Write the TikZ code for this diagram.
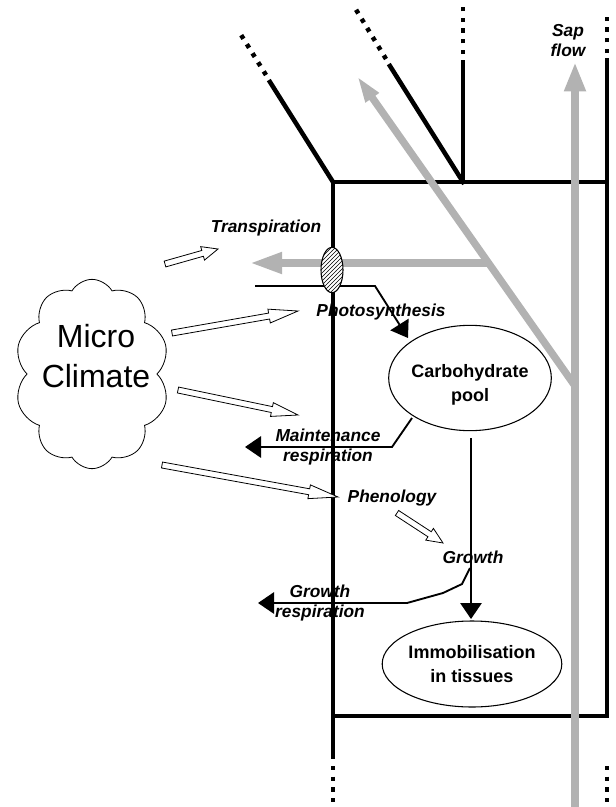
\documentclass[tikz,border=0pt]{standalone}
\usepackage{fontspec}
\newfontfamily\lab{Liberation Sans}
\usetikzlibrary{arrows.meta,shapes.geometric,shapes.symbols,calc,patterns}
\tikzset{
  trunk/.style={line width=3.4pt, line cap=rect},
  dots/.style={line width=3.4pt, dash pattern=on 3.2pt off 4.8pt},
  thinl/.style={line width=1.4pt},
  blackhead/.style={-{Triangle[length=12pt,width=16pt]}},
  grayarr/.style={draw=black!30, line width=5.5pt},
  hollow/.style={draw=black, line width=0.6pt, fill=white},
  itl/.style={font=\lab\bfseries\itshape\fontsize{13}{15}\selectfont, inner sep=0pt, align=center},
  bdl/.style={font=\lab\bfseries\fontsize{13.5}{17.5}\selectfont, align=center},
}
\newcommand\hollowarr[3]{%
  \coordinate (H) at ($(#2)!#3!(#1)$);
  \draw[hollow] ($(#1)!2.25pt!90:(#2)$) -- ($(H)!2.25pt!90:(#2)$) -- ($(H)!5.25pt!90:(#2)$)
    -- (#2) -- ($(H)!5.25pt!-90:(#2)$) -- ($(H)!2.25pt!-90:(#2)$) -- ($(#1)!2.25pt!-90:(#2)$) -- cycle;
}
\begin{document}
\begin{tikzpicture}[x=0.75pt,y=-0.75pt]
\useasboundingbox (0,0) rectangle (616,807);
% --- stem skeleton ---
\coordinate (tl) at (333,182);
\coordinate (tr) at (607,182);
\coordinate (bl) at (333,716);
\coordinate (br) at (607,716);
\coordinate (lsolidend) at (333,757);
\coordinate (ldot1) at (333,766);
\coordinate (ldot2) at (333,807);
\coordinate (rtop) at (607,60);
\coordinate (rdot1) at (607,53);
\coordinate (rdot2) at (607,13);
\coordinate (rbdot1) at (607,766);
\coordinate (rbdot2) at (607,807);
\coordinate (b1end) at (270,82);
\coordinate (b1dot1) at (266,75);
\coordinate (b1dot2) at (238,30);
\coordinate (mj) at (463,182);
\coordinate (mvtop) at (463,62);
\coordinate (mvdot1) at (463,54);
\coordinate (mvdot2) at (463,7);
\coordinate (mdend) at (390,66);
\coordinate (mddot1) at (386,59);
\coordinate (mddot2) at (355,8);

\draw[trunk] (tl) -- (lsolidend);
\draw[trunk] (tl) -- (tr);
\draw[trunk] (bl) -- (br);
\draw[trunk] (rtop) -- (br);
\draw[trunk] (tl) -- (b1end);
\draw[trunk] (mj) -- (mvtop);
\draw[trunk] (mj) -- (mdend);
\draw[dots] (ldot1) -- (ldot2);
\draw[dots] (rdot1) -- (rdot2);
\draw[dots] (rbdot1) -- (rbdot2);
\draw[dots] (b1dot1) -- (b1dot2);
\draw[dots] (mvdot1) -- (mvdot2);
\draw[dots] (mddot1) -- (mddot2);

% --- gray water flows ---
\coordinate (sapb) at (575,807);
\coordinate (sapt) at (575,62);
\coordinate (diagb) at (575,386);
\coordinate (diagt) at (357,76);
\coordinate (horb) at (490,263);
\coordinate (hort) at (250,263);
\draw[grayarr, line width=6pt, -{Triangle[length=22pt,width=15pt]}] (sapb) -- (sapt);
\draw[grayarr, -{Triangle[length=20pt,width=11pt]}] (diagb) -- (diagt);
\draw[grayarr, -{Triangle[length=24pt,width=15pt]}] (horb) -- (hort);

% --- leaf and photosynthesis ---
\coordinate (leafl) at (255,286);
\coordinate (leafk) at (375,286);
\node[ellipse, draw=black, line width=0.8pt, minimum width=122pt, minimum height=79pt, inner sep=0pt] (carb) at (470,378) {};
\node[bdl] (carbtxt) at (470,385) {Carbohydrate\\pool};
\coordinate (photoend) at (408,338);
\draw[thinl, blackhead] (leafl) -- (leafk) -- (photoend);
\node[ellipse, draw=black, line width=0.8pt, minimum width=16.5pt, minimum height=34pt, inner sep=0pt,
      preaction={fill=white}, pattern=north east lines] (stoma) at (332,270) {};

% --- texts ---
\node[itl] (transp) at (266,228) {Transpiration};
\node[itl] (photo) at (381,312) {Photosynthesis};
\node[itl] (maint) at (328,447) {Maintenance\\respiration};
\node[itl] (pheno) at (392,498) {Phenology};
\node[itl] (growth) at (473,557) {Growth};
\node[itl] (grresp) at (320,603) {Growth\\respiration};
\node[itl] (sap) at (568,41) {Sap\\flow};

\node[ellipse, draw=black, line width=0.8pt, minimum width=117pt, minimum height=64.5pt, inner sep=0pt, bdl] (immob) at (472,664) {Immobilisation\\in tissues};

% --- respiration and growth arrows ---
\coordinate (mstart) at (412,418);
\coordinate (mknee) at (392,447);
\coordinate (mtip) at (245,447);
\draw[thinl, blackhead] (mstart) -- (mknee) -- (mtip);
\coordinate (cdown) at (471,438);
\coordinate (cdownend) at (471,619);
\draw[thinl, blackhead] (cdown) -- (cdownend);
\coordinate (g1) at (470,568);
\coordinate (g2) at (462,584);
\coordinate (g3) at (443,593);
\coordinate (g4) at (407,603);
\coordinate (gtip) at (258,603);
\draw[thinl, blackhead] (g1) -- (g2) -- (g3) -- (g4) -- (gtip);

% --- micro climate ---
\node[cloud, draw=black, line width=0.6pt, cloud puffs=10, cloud puff arc=120, aspect=0.83,
      minimum width=116pt, minimum height=142pt, inner sep=0pt] (cloud) at (92,374) {};
\node[font=\lab\fontsize{24}{30}\selectfont, align=center] (mctxt) at (96,356) {Micro\\Climate};

\coordinate (a1s) at (165,264);
\coordinate (a1e) at (218,249);
\coordinate (a2s) at (172,333);
\coordinate (a2e) at (298,311);
\coordinate (a3s) at (178,390);
\coordinate (a3e) at (298,415);
\coordinate (a4s) at (162,465);
\coordinate (a4e) at (338,497);
\coordinate (a5s) at (397,513);
\coordinate (a5e) at (443,543);
\hollowarr{a1s}{a1e}{12pt}
\hollowarr{a2s}{a2e}{22pt}
\hollowarr{a3s}{a3e}{20pt}
\hollowarr{a4s}{a4e}{22pt}
\hollowarr{a5s}{a5e}{12pt}
\end{tikzpicture}
\end{document}
